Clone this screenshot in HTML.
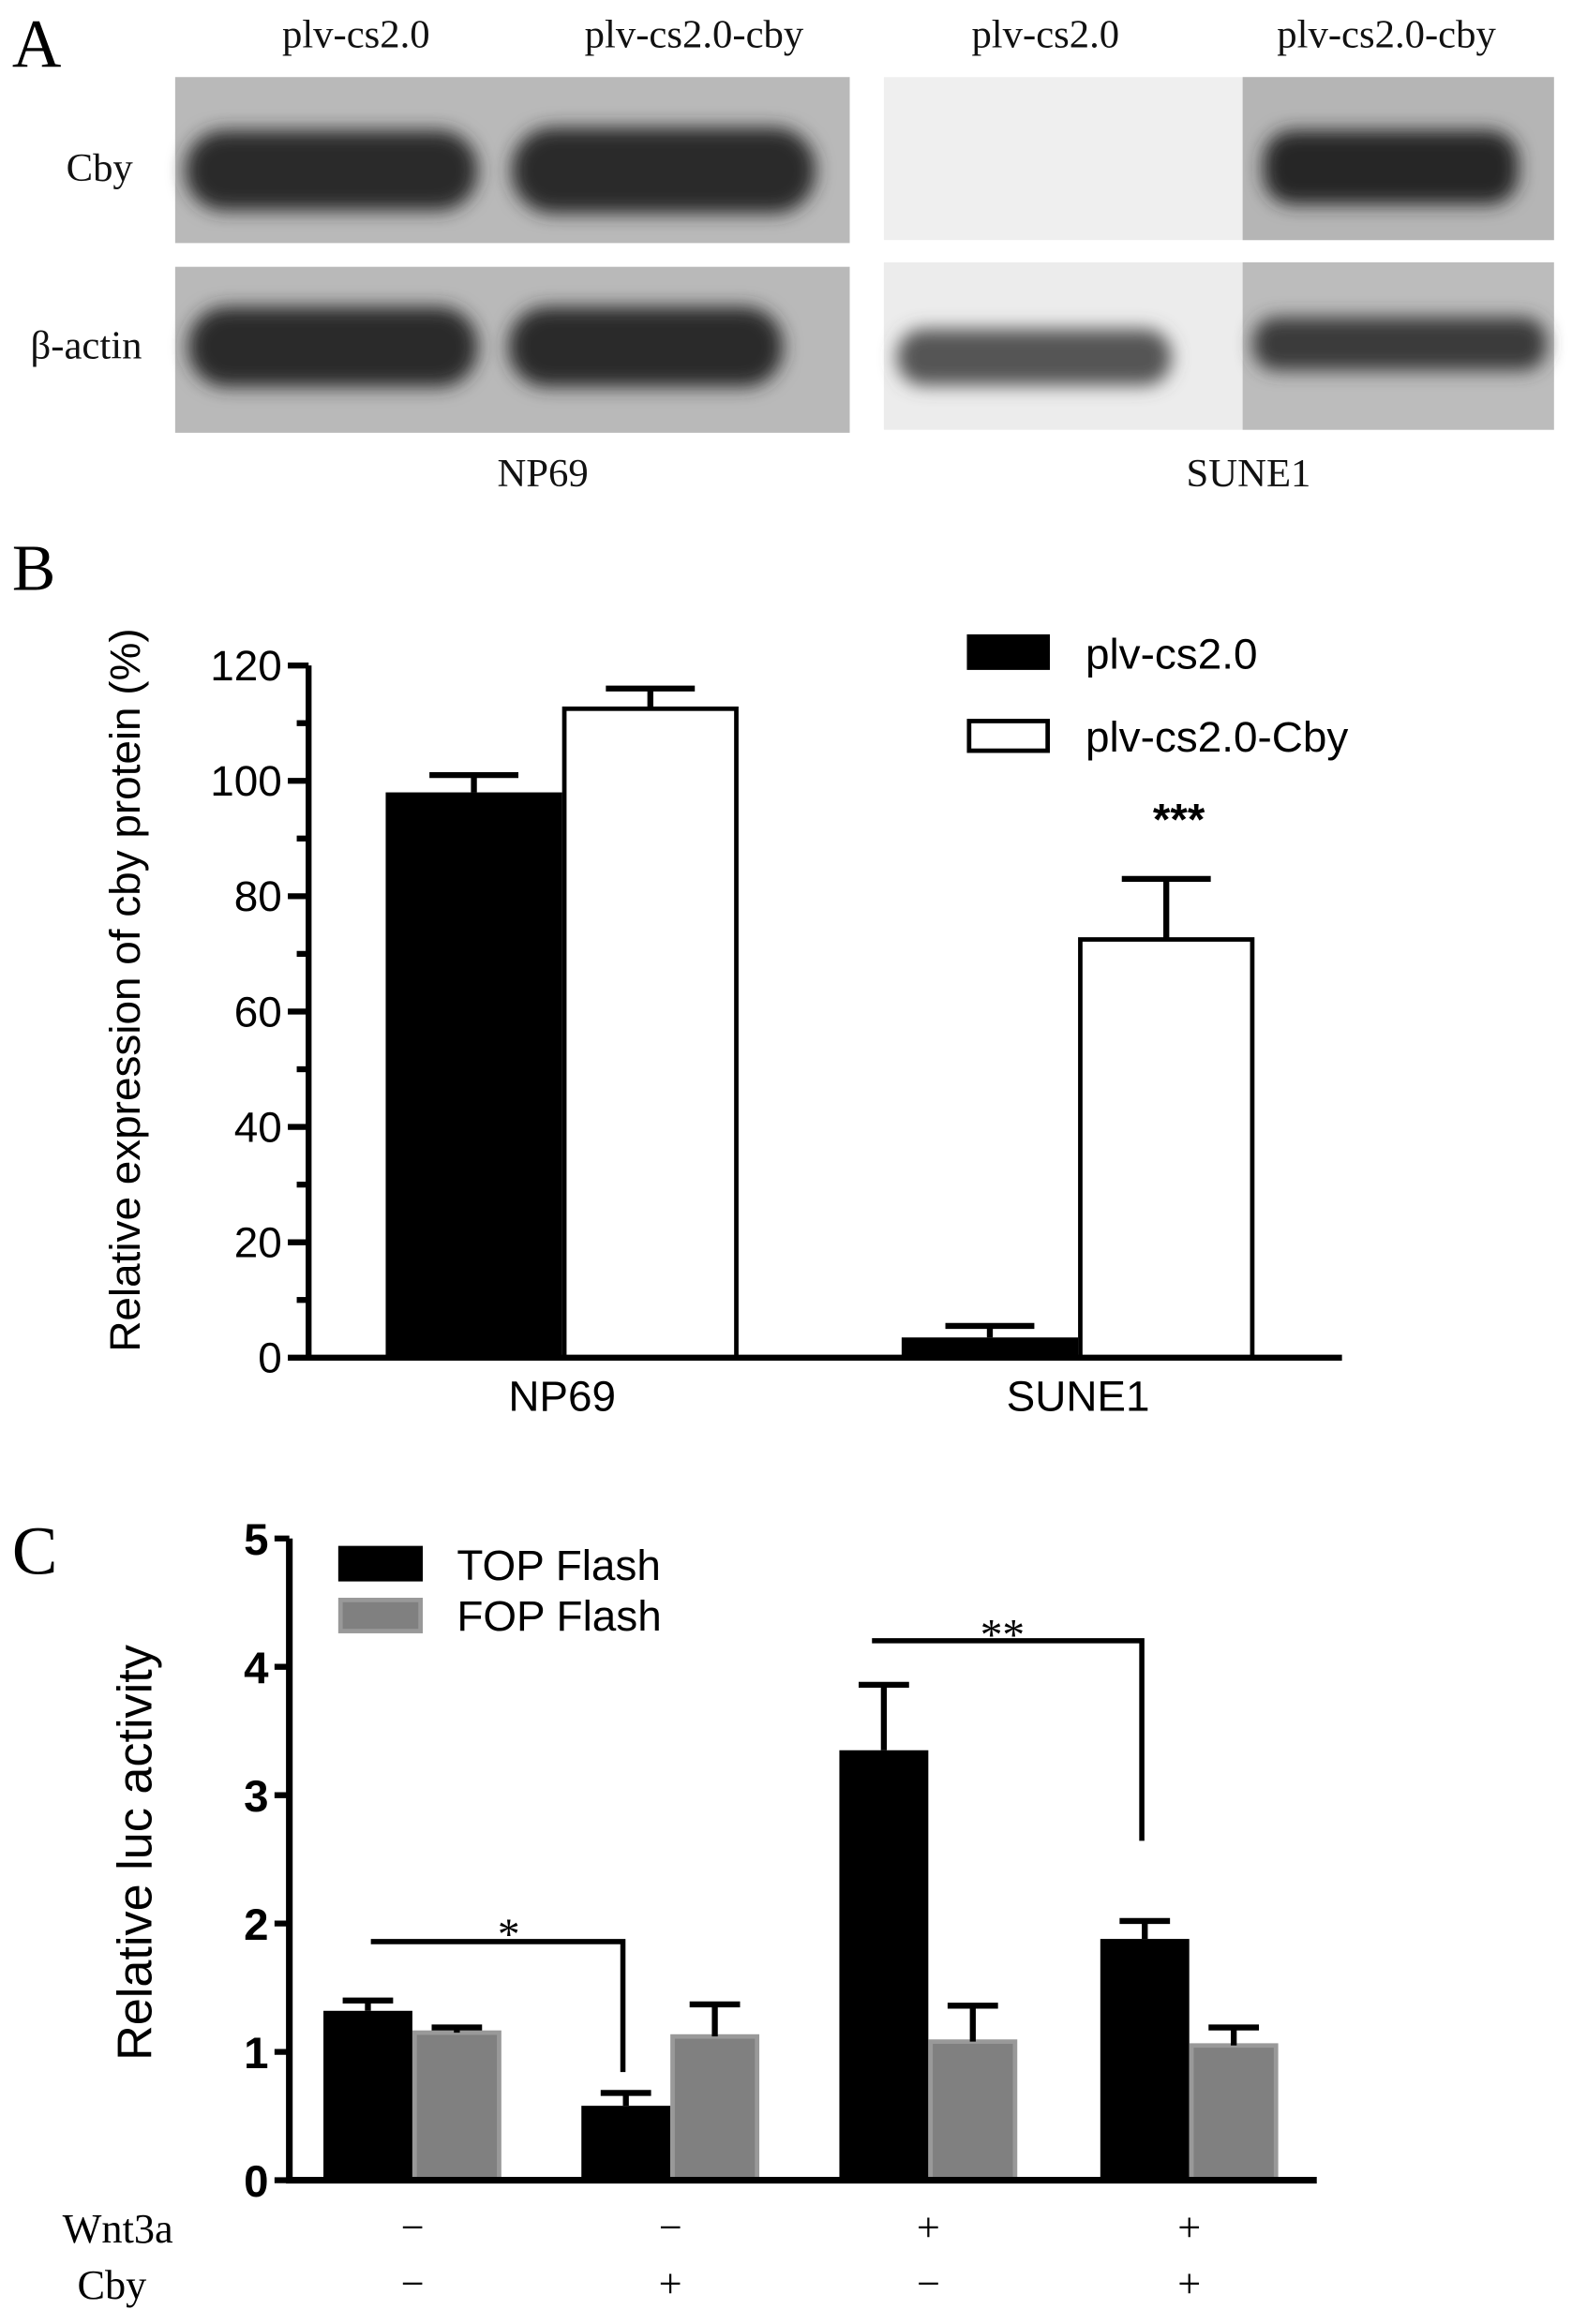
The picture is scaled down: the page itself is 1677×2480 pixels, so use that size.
<!DOCTYPE html>
<html><head><meta charset="utf-8"><style>
html,body{margin:0;padding:0;background:#fff}
svg{display:block}
.serif{font-family:"Liberation Serif",serif}
.sans{font-family:"Liberation Sans",sans-serif}
</style></head><body>
<svg id="fig" width="1677" height="2480" viewBox="0 0 1060 1568" xmlns="http://www.w3.org/2000/svg">
<defs>
<filter id="blur" x="-20%" y="-50%" width="140%" height="200%"><feGaussianBlur stdDeviation="6"/></filter>
<filter id="blur2" x="-20%" y="-50%" width="140%" height="200%"><feGaussianBlur stdDeviation="10"/></filter>
</defs>
<!-- Panel A -->
<g>
<text class="serif" x="8" y="45" font-size="46">A</text>
<g class="serif" font-size="27" text-anchor="middle" fill="#111">
<text x="240" y="32">plv-cs2.0</text>
<text x="468" y="32">plv-cs2.0-cby</text>
<text x="705" y="32">plv-cs2.0</text>
<text x="935" y="32">plv-cs2.0-cby</text>
<text x="67" y="122">Cby</text>
<text x="58" y="242">β-actin</text>
<text x="366" y="328">NP69</text>
<text x="842" y="328">SUNE1</text>
</g>
<g>
<rect x="118" y="52" width="455" height="112" fill="#b9b9b9"/>
<rect x="118" y="180" width="455" height="112" fill="#b9b9b9"/>
<rect x="125" y="88" width="197" height="54" rx="26" fill="#2a2a2a" filter="url(#blur)"/>
<rect x="345" y="86" width="205" height="58" rx="28" fill="#2a2a2a" filter="url(#blur)"/>
<rect x="127" y="207" width="195" height="54" rx="26" fill="#2a2a2a" filter="url(#blur)"/>
<rect x="343" y="207" width="185" height="54" rx="26" fill="#2a2a2a" filter="url(#blur)"/>
</g>
<g>
<rect x="596" y="52" width="452" height="110" fill="#efefef"/>
<rect x="596" y="177" width="452" height="113" fill="#ececec"/>
<rect x="838" y="52" width="210" height="110" fill="#b5b5b5"/>
<rect x="838" y="177" width="210" height="113" fill="#bcbcbc"/>
<rect x="852" y="88" width="172" height="50" rx="20" fill="#252525" filter="url(#blur)"/>
<rect x="605" y="222" width="185" height="38" rx="18" fill="#555" filter="url(#blur)"/>
<rect x="845" y="214" width="198" height="36" rx="16" fill="#3a3a3a" filter="url(#blur)"/>
</g>
</g>
<!-- Panel B -->
<g id="chartB"></g>
<!-- Panel C -->
<g id="chartC"></g>
</svg>
<script>
const bCategories = ["NP69", "SUNE1"];
const bControl = [98, 3.5];
const bControlErr = [3, 2];
const bCby = [112.5, 72.5];
const bCbyErr = [3.5, 10.5];
const bTicks = [0, 20, 40, 60, 80, 100, 120];

const cGroups = ["g1", "g2", "g3", "g4"];
const cTop = [1.32, 0.58, 3.35, 1.88];
const cTopErr = [0.08, 0.10, 0.51, 0.14];
const cFop = [1.15, 1.12, 1.08, 1.05];
const cFopErr = [0.04, 0.25, 0.28, 0.14];
const cTicks = [0, 1, 2, 3, 4, 5];
const cWnt = ["−", "−", "+", "+"];
const cCby = ["−", "+", "−", "+"];

const NS = "http://www.w3.org/2000/svg";
function mk(parent, tag, attrs, text) {
  const e = document.createElementNS(NS, tag);
  for (const k in attrs) e.setAttribute(k, attrs[k]);
  if (text !== undefined) e.textContent = text;
  parent.appendChild(e);
  return e;
}

// ---- Panel B ----
(function () {
  const g = document.getElementById('chartB');
  const x0 = 208, y0 = 916, yTop = 449, max = 120;
  const yB = v => y0 - (v / max) * (y0 - yTop);
  const groupStart = [260, 608];
  const bw = 119;
  const lab = mk(g, 'text', {x: 8, y: 398, 'font-size': 44, class: 'serif'}, 'B');
  
  
  bCategories.forEach((c, i) => {
    const xs = groupStart[i];
    const r1 = mk(g, 'rect', {x: xs, y: yB(bControl[i]), width: bw, height: y0 - yB(bControl[i]), fill: '#000'});
    
    
    const r2 = mk(g, 'rect', {x: xs + bw + 1.5, y: yB(bCby[i]), width: bw - 3, height: y0 - yB(bCby[i]), fill: '#fff', stroke: '#000', 'stroke-width': 3});
    
    
    [[xs + bw / 2, bControl[i], bControlErr[i]], [xs + bw * 1.5, bCby[i], bCbyErr[i]]].forEach(([cx, v, e]) => {
      const eb = mk(g, 'path', {d: `M${cx},${yB(v)}V${yB(v + e)}M${cx - 30},${yB(v + e)}H${cx + 30}`, stroke: '#000', 'stroke-width': 4, fill: 'none'});
      
      
    });
    const t = mk(g, 'text', {x: xs + bw, y: 952, 'font-size': 29, 'text-anchor': 'middle', class: 'sans'}, c);
    
    
  });
  const ax = mk(g, 'path', {d: `M${x0},${yTop}V${y0}H905`, stroke: '#000', 'stroke-width': 4, fill: 'none'});
  
  
  for (let v = 0; v <= max; v += 10) {
    const major = v % 20 === 0;
    const tk = mk(g, 'line', {x1: x0 - (major ? 14 : 8), x2: x0, y1: yB(v), y2: yB(v), stroke: '#000', 'stroke-width': 4});
    
    
  }
  bTicks.forEach(v => {
    const t = mk(g, 'text', {x: x0 - 18, y: yB(v) + 10, 'font-size': 29, 'text-anchor': 'end', class: 'sans'}, String(v));
    
    
  });
  const yl = mk(g, 'text', {x: 0, y: 0, 'font-size': 29, 'text-anchor': 'middle', class: 'sans', transform: 'translate(94,668) rotate(-90)'}, 'Relative expression of cby protein (%)');
  
  
  const l1 = mk(g, 'rect', {x: 652, y: 428, width: 56, height: 24, fill: '#000'});
  
  
  const l2 = mk(g, 'rect', {x: 653.5, y: 486.5, width: 53, height: 20, fill: '#fff', stroke: '#000', 'stroke-width': 3});
  
  
  const lt1 = mk(g, 'text', {x: 732, y: 451, 'font-size': 29, class: 'sans'}, 'plv-cs2.0');
  
  
  const lt2 = mk(g, 'text', {x: 732, y: 507, 'font-size': 29, class: 'sans'}, 'plv-cs2.0-Cby');
  
  
  const st = mk(g, 'text', {x: 795, y: 563, 'font-size': 30, 'text-anchor': 'middle', class: 'sans', 'font-weight': 'bold'}, '***');
  
  
})();

// ---- Panel C ----
(function () {
  const g = document.getElementById('chartC');
  const x0 = 195, y0 = 1471, yTop = 1038, max = 5;
  const yC = v => y0 - (v / max) * (y0 - yTop);
  const groupStart = [218, 392, 566, 742];
  const bw = 60;
  const lab = mk(g, 'text', {x: 8, y: 1062, 'font-size': 46, class: 'serif'}, 'C');
  
  
  cGroups.forEach((c, i) => {
    const xs = groupStart[i];
    const r1 = mk(g, 'rect', {x: xs, y: yC(cTop[i]), width: bw, height: y0 - yC(cTop[i]), fill: '#000'});
    
    
    const r2 = mk(g, 'rect', {x: xs + bw + 1.5, y: yC(cFop[i]), width: bw - 3, height: y0 - yC(cFop[i]), fill: '#808080', stroke: '#999', 'stroke-width': 3});
    
    
    [[xs + bw / 2, cTop[i], cTopErr[i]], [xs + bw * 1.5, cFop[i], cFopErr[i]]].forEach(([cx, v, e]) => {
      const eb = mk(g, 'path', {d: `M${cx},${yC(v)}V${yC(v + e)}M${cx - 17},${yC(v + e)}H${cx + 17}`, stroke: '#000', 'stroke-width': 4, fill: 'none'});
      
      
    });
    const tw = mk(g, 'text', {x: xs + bw, y: 1512, 'font-size': 28, 'text-anchor': 'middle', class: 'serif'}, cWnt[i]);
    
    
    const tc = mk(g, 'text', {x: xs + bw, y: 1550, 'font-size': 28, 'text-anchor': 'middle', class: 'serif'}, cCby[i]);
    
    
  });
  const ax = mk(g, 'path', {d: `M${x0},${yTop}V${y0}H888`, stroke: '#000', 'stroke-width': 4.5, fill: 'none'});
  
  
  cTicks.forEach(v => {
    const tk = mk(g, 'line', {x1: x0 - 10, x2: x0, y1: yC(v), y2: yC(v), stroke: '#000', 'stroke-width': 4});
    
    
    const t = mk(g, 'text', {x: x0 - 14, y: yC(v) + 11, 'font-size': 30, 'font-weight': 'bold', 'text-anchor': 'end', class: 'sans'}, String(v));
    
    
  });
  const yl = mk(g, 'text', {x: 0, y: 0, 'font-size': 33, 'text-anchor': 'middle', class: 'sans', transform: 'translate(102,1250) rotate(-90)'}, 'Relative luc activity');
  
  
  const l1 = mk(g, 'rect', {x: 228, y: 1043, width: 57, height: 24, fill: '#000'});
  
  
  const l2 = mk(g, 'rect', {x: 229.5, y: 1079.5, width: 54, height: 21, fill: '#808080', stroke: '#999', 'stroke-width': 3});
  
  
  const lt1 = mk(g, 'text', {x: 308, y: 1066, 'font-size': 29, class: 'sans'}, 'TOP Flash');
  
  
  const lt2 = mk(g, 'text', {x: 308, y: 1100, 'font-size': 29, class: 'sans'}, 'FOP Flash');
  
  
  const b1 = mk(g, 'path', {d: 'M250,1310H420V1398', stroke: '#000', 'stroke-width': 3.5, fill: 'none'});
  
  
  const s1 = mk(g, 'text', {x: 343, y: 1315, 'font-size': 30, 'text-anchor': 'middle', class: 'serif'}, '*');
  
  
  const b2 = mk(g, 'path', {d: 'M588,1107H770V1242', stroke: '#000', 'stroke-width': 3.5, fill: 'none'});
  
  
  const s2 = mk(g, 'text', {x: 676, y: 1113, 'font-size': 30, 'text-anchor': 'middle', class: 'serif'}, '**');
  
  
  const wl = mk(g, 'text', {x: 42, y: 1513, 'font-size': 28, class: 'serif'}, 'Wnt3a');
  
  
  const cl = mk(g, 'text', {x: 52, y: 1551, 'font-size': 28, class: 'serif'}, 'Cby');
  
  
})();
</script>
</body></html>
